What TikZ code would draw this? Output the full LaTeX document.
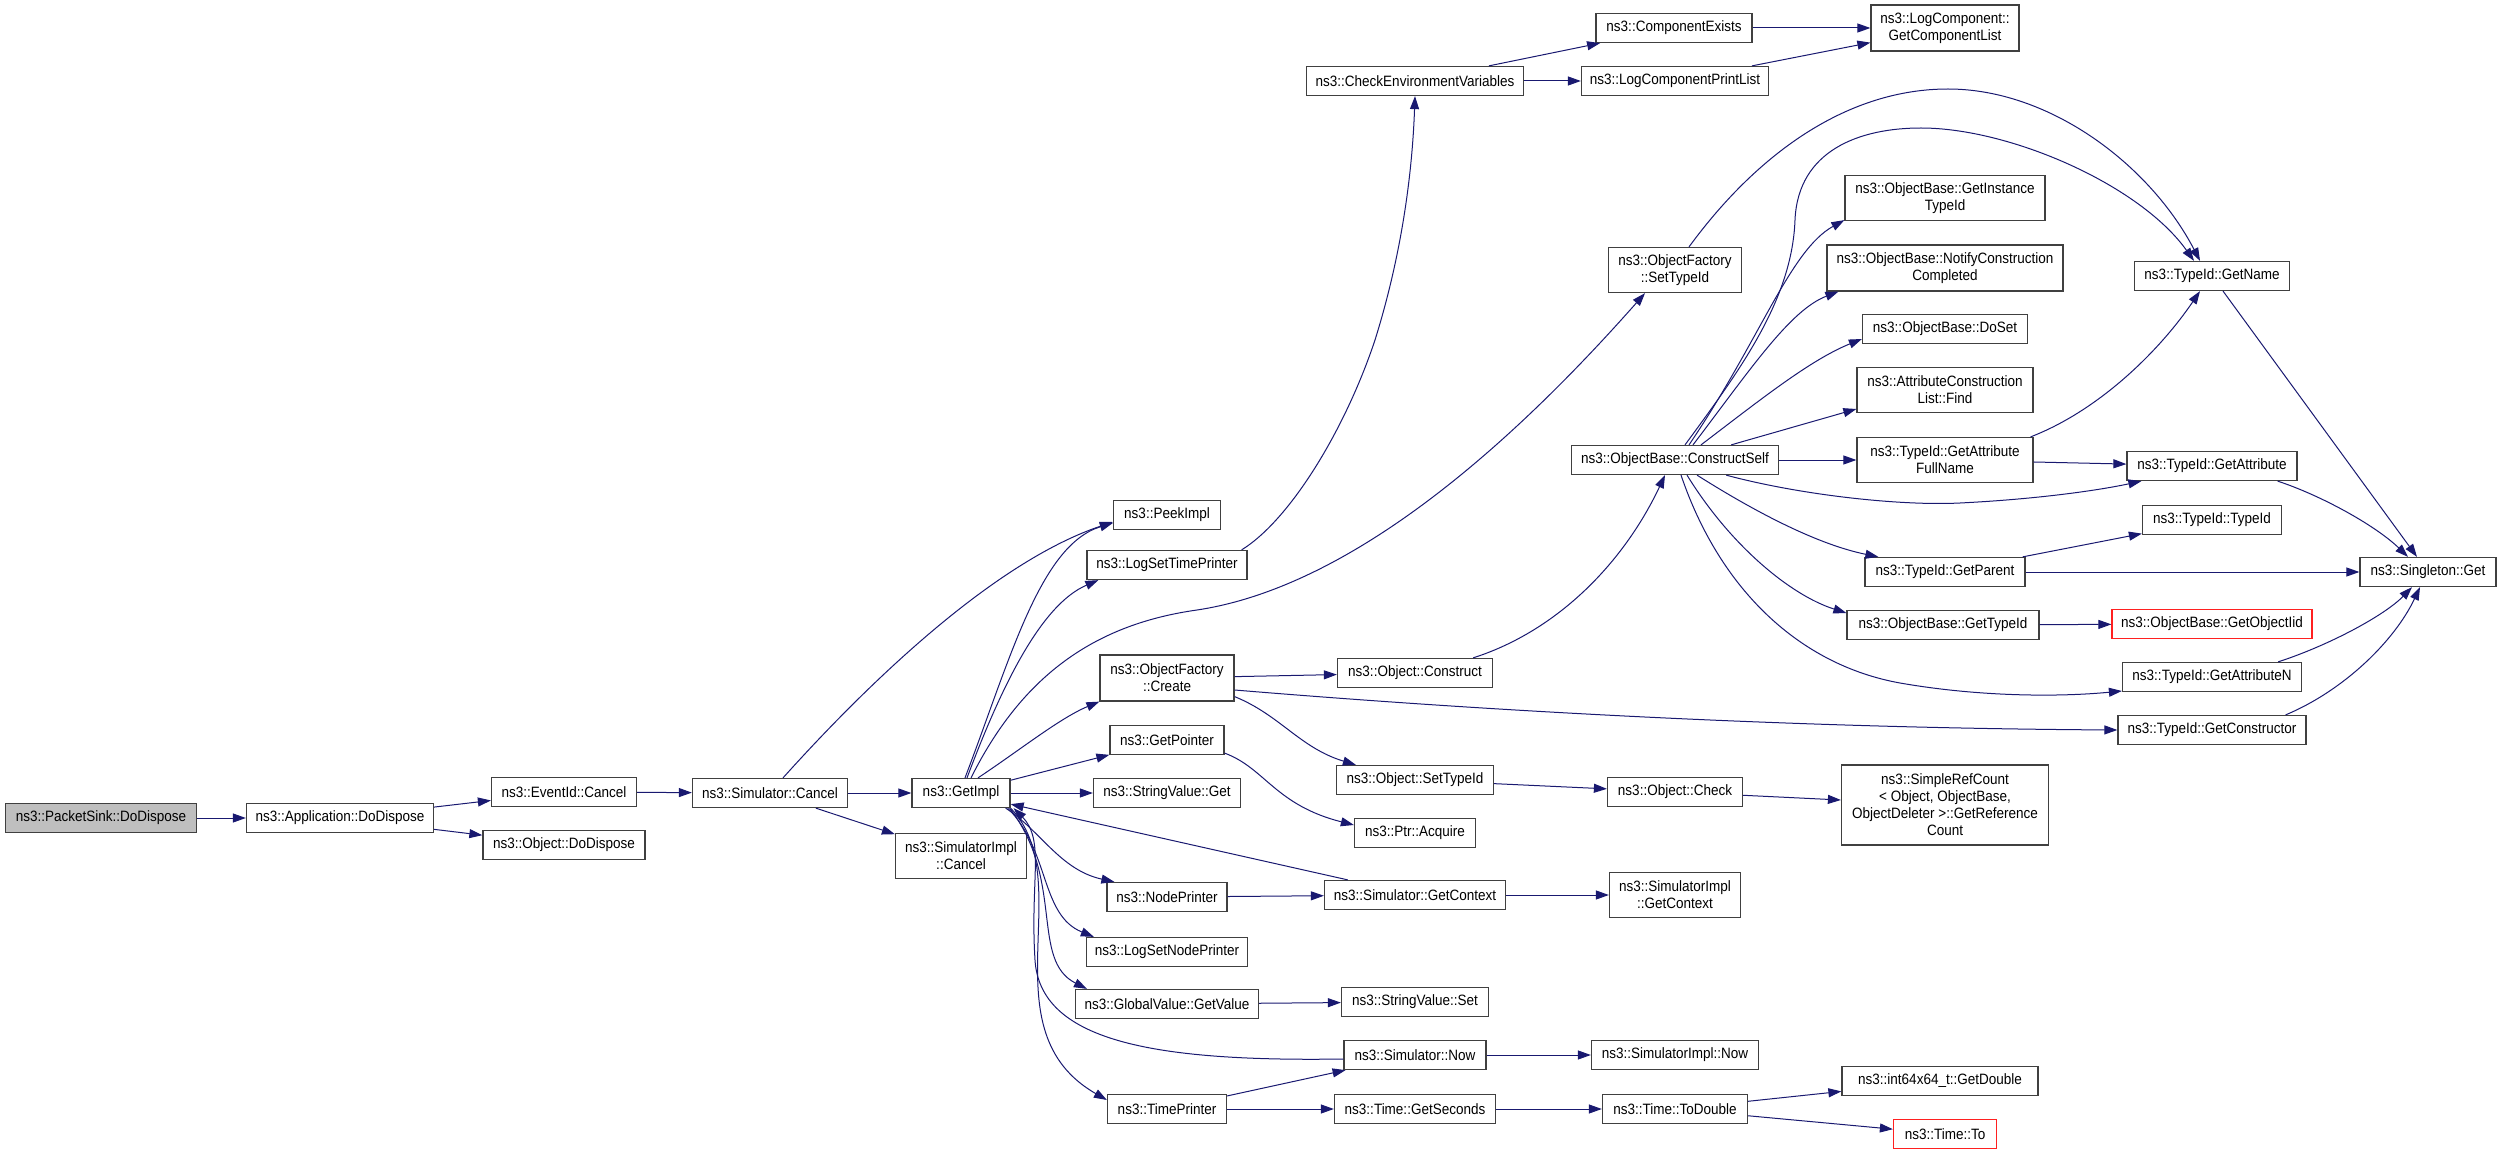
\documentclass[tikz,border=0pt]{standalone}
\usepackage{fontspec}
\setmainfont{Liberation Sans}[FakeStretch=0.9]
\usetikzlibrary{arrows.meta,calc}
\definecolor{edgec}{HTML}{191970}
\definecolor{boxc}{HTML}{404040}
\definecolor{truncc}{HTML}{FF2020}
\definecolor{grayfill}{HTML}{BFBFBF}
\tikzset{
  fn/.style={draw=boxc, line width=1.25pt, fill=white, inner sep=0pt, minimum height=29pt, align=center, font=\fontsize{15pt}{17pt}\selectfont},
  fntwo/.style={fn, minimum height=45pt},
  trunc/.style={draw=truncc},
  call/.style={draw=edgec, line width=1.0pt, -{Triangle[length=13pt,width=9pt]}}
}
\begin{document}
\begin{tikzpicture}[x=1pt,y=-1pt]
\useasboundingbox (0,0) rectangle (2501,1155);
% column 0-4
\node[fn, minimum width=191pt, fill=grayfill] (psdd) at (101,818) {ns3::PacketSink::DoDispose};
\node[fn, minimum width=187pt] (appdd) at (340,818) {ns3::Application::DoDispose};
\node[fn, minimum width=145pt] (evc) at (564,792) {ns3::EventId::Cancel};
\node[fn, minimum width=162pt] (objdd) at (564,845) {ns3::Object::DoDispose};
\node[fn, minimum width=155pt] (simc) at (770,793) {ns3::Simulator::Cancel};
\node[fn, minimum width=98pt] (getimpl) at (961,793) {ns3::GetImpl};
\node[fntwo, minimum width=131pt] (simic) at (961,856) {ns3::SimulatorImpl\\::Cancel};
% column 5
\node[fn, minimum width=107pt] (peek) at (1167,515) {ns3::PeekImpl};
\node[fn, minimum width=160pt] (lstp) at (1167,565) {ns3::LogSetTimePrinter};
\node[fn, minimum width=134pt, minimum height=46pt] (ofc) at (1167,678) {ns3::ObjectFactory\\::Create};
\node[fn, minimum width=114pt] (getptr) at (1167,740) {ns3::GetPointer};
\node[fn, minimum width=147pt] (svget) at (1167,793) {ns3::StringValue::Get};
\node[fn, minimum width=120pt] (nodep) at (1167,897) {ns3::NodePrinter};
\node[fn, minimum width=161pt] (lsnp) at (1167,952) {ns3::LogSetNodePrinter};
\node[fn, minimum width=183pt] (gvgv) at (1167,1004) {ns3::GlobalValue::GetValue};
\node[fn, minimum width=119pt] (timep) at (1167,1109) {ns3::TimePrinter};
% column 6
\node[fn, minimum width=217pt] (chkenv) at (1415,81) {ns3::CheckEnvironmentVariables};
\node[fn, minimum width=155pt] (objcons) at (1415,673) {ns3::Object::Construct};
\node[fn, minimum width=157pt] (objsti) at (1415,780) {ns3::Object::SetTypeId};
\node[fn, minimum width=121pt] (ptracq) at (1415,833) {ns3::Ptr::Acquire};
\node[fn, minimum width=181pt] (simgc) at (1415,895) {ns3::Simulator::GetContext};
\node[fn, minimum width=147pt] (svset) at (1415,1002) {ns3::StringValue::Set};
\node[fn, minimum width=142pt] (simnow) at (1415,1055) {ns3::Simulator::Now};
\node[fn, minimum width=161pt] (tgs) at (1415,1109) {ns3::Time::GetSeconds};
% column 7
\node[fn, minimum width=156pt] (compex) at (1674,28) {ns3::ComponentExists};
\node[fn, minimum width=187pt] (lcpl) at (1675,81) {ns3::LogComponentPrintList};
\node[fntwo, minimum width=133pt] (ofst) at (1675,270) {ns3::ObjectFactory\\::SetTypeId};
\node[fn, minimum width=207pt] (cself) at (1675,460) {ns3::ObjectBase::ConstructSelf};
\node[fn, minimum width=135pt] (objchk) at (1675,792) {ns3::Object::Check};
\node[fntwo, minimum width=131pt] (simigc) at (1675,895) {ns3::SimulatorImpl\\::GetContext};
\node[fn, minimum width=167pt] (siminow) at (1675,1055) {ns3::SimulatorImpl::Now};
\node[fn, minimum width=145pt] (ttod) at (1675,1109) {ns3::Time::ToDouble};
% column 8
\node[fn, minimum width=148pt, minimum height=46pt] (gcl) at (1945,28) {ns3::LogComponent::\\GetComponentList};
\node[fntwo, minimum width=200pt] (gitid) at (1945,198) {ns3::ObjectBase::GetInstance\\TypeId};
\node[fn, minimum width=236pt, minimum height=46pt] (ncc) at (1945,268) {ns3::ObjectBase::NotifyConstruction\\Completed};
\node[fn, minimum width=165pt] (doset) at (1945,329) {ns3::ObjectBase::DoSet};
\node[fntwo, minimum width=176pt] (acfind) at (1945,390) {ns3::AttributeConstruction\\List::Find};
\node[fntwo, minimum width=176pt] (gafn) at (1945,460) {ns3::TypeId::GetAttribute\\FullName};
\node[fn, minimum width=160pt] (gparent) at (1945,572) {ns3::TypeId::GetParent};
\node[fn, minimum width=192pt] (obgti) at (1943,625) {ns3::ObjectBase::GetTypeId};
\node[fn, minimum width=207pt, minimum height=80pt] (src) at (1945,805) {ns3::SimpleRefCount\\< Object, ObjectBase,\\ObjectDeleter >::GetReference\\Count};
\node[fn, minimum width=196pt] (gdouble) at (1940,1081) {ns3::int64x64\_t::GetDouble};
\node[fn, trunc, minimum width=103pt] (tto) at (1945,1134) {ns3::Time::To};
% column 9
\node[fn, minimum width=155pt] (gname) at (2212,276) {ns3::TypeId::GetName};
\node[fn, minimum width=170pt] (gattr) at (2212,466) {ns3::TypeId::GetAttribute};
\node[fn, minimum width=139pt] (tidtid) at (2212,520) {ns3::TypeId::TypeId};
\node[fn, trunc, minimum width=200pt] (goiid) at (2212,624) {ns3::ObjectBase::GetObjectIid};
\node[fn, minimum width=179pt] (gattrn) at (2212,677) {ns3::TypeId::GetAttributeN};
\node[fn, minimum width=188pt] (gctor) at (2212,730) {ns3::TypeId::GetConstructor};
% column 10
\node[fn, minimum width=136pt] (sget) at (2428,572) {ns3::Singleton::Get};

% edges
\draw[call] (psdd) -- (appdd);
\draw[call] (appdd) -- (evc);
\draw[call] (appdd) -- (objdd);
\draw[call] (evc) -- (simc);
\draw[call] (simc) -- (getimpl);
\draw[call] (simc) -- (simic);
\draw[call] ($(simc.north)+(13,0)$) .. controls (880,670) and (1000,560) .. ($(peek.west)+(0,7)$);
\draw[call] ($(getimpl.north)+(4,0)$) .. controls (1010,660) and (1040,545) .. ($(peek.west)+(0,8)$);
\draw[call] ($(getimpl.north)+(6,0)$) .. controls (1000,690) and (1040,605) .. ($(lstp.south west)+(12,0)$);
\draw[call] ($(getimpl.north)+(10,0)$) .. controls (1020,680) and (1090,625) .. (1197,610) .. controls (1330,590) and (1480,480) .. ($(ofst.south)+(-30,0)$);
\draw[call] ($(getimpl.north)+(17,0)$) .. controls (1020,750) and (1060,718) .. (ofc.south west);
\draw[call] (getimpl) -- (getptr);
\draw[call] (getimpl) -- (svget);
\draw[call] ($(getimpl.south east)+(-5,0)$) .. controls (1040,830) and (1060,870) .. ($(nodep.north west)+(8,0)$);
\draw[call] ($(getimpl.south east)+(-3,0)$) .. controls (1050,850) and (1040,915) .. ($(lsnp.north west)+(8,0)$);
\draw[call] ($(getimpl.south east)+(-1,0)$) .. controls (1065,880) and (1030,960) .. ($(gvgv.north west)+(12,0)$);
\draw[call] (getimpl.south east) .. controls (1080,880) and (985,1030) .. ($(timep.west)+(0,-9)$);
\draw[call] ($(simnow.west)+(0,4)$) .. controls (1150,1062) and (1040,1040) .. (1035,960) .. controls (1030,880) and (1045,840) .. ($(getimpl.south east)+(3,0)$);
\draw[call] (simgc) -- (getimpl);
\draw[call] (nodep) -- (simgc);
\draw[call] ($(lstp.north east)+(-6,0)$) .. controls (1290,520) and (1345,430) .. (1375,340) .. controls (1400,260) and (1412,180) .. (chkenv.south);
\draw[call] (ofc) -- (objcons);
\draw[call] ($(ofc.east)+(0,12)$) .. controls (1500,712) and (1800,728) .. (gctor.west);
\draw[call] ($(ofc.south east)+(0,-5)$) .. controls (1280,715) and (1300,748) .. ($(objsti.north west)+(20,0)$);
\draw[call] ($(getptr.south east)+(0,-2)$) .. controls (1265,768) and (1275,805) .. ($(ptracq.west)+(0,-8)$);
\draw[call] (chkenv) -- (compex);
\draw[call] (chkenv) -- (lcpl);
\draw[call] (compex) -- (gcl);
\draw[call] (lcpl) -- (gcl);
\draw[call] ($(ofst.north)+(14,0)$) .. controls (1760,150) and (1850,89) .. (1948,89) .. controls (2050,89) and (2150,165) .. ($(gname.north)+(-12,0)$);
\draw[call] ($(cself.north)+(10,0)$) .. controls (1740,370) and (1792,300) .. (1795,220) .. controls (1798,150) and (1860,128) .. (1921,128) .. controls (2010,128) and (2140,185) .. ($(gname.north)+(-18,0)$);
\draw[call] ($(cself.north)+(14,0)$) .. controls (1760,340) and (1790,250) .. ($(gitid.south west)+(0,-1)$);
\draw[call] ($(cself.north)+(18,0)$) .. controls (1750,370) and (1790,310) .. ($(ncc.south west)+(12,0)$);
\draw[call] ($(cself.north)+(26,0)$) .. controls (1760,400) and (1810,360) .. ($(doset.west)+(0,10)$);
\draw[call] ($(cself.north east)+(-48,0)$) -- ($(acfind.west)+(0,19)$);
\draw[call] (cself) -- (gafn);
\draw[call] ($(cself.south east)+(-53,0)$) .. controls (1800,495) and (1900,506) .. (1960,503) .. controls (2040,499) and (2100,490) .. ($(gattr.south west)+(15,0)$);
\draw[call] ($(cself.south)+(22,0)$) .. controls (1760,515) and (1820,545) .. ($(gparent.north west)+(14,0)$);
\draw[call] ($(cself.south)+(12,0)$) .. controls (1730,545) and (1790,595) .. ($(obgti.west)+(0,-12)$);
\draw[call] ($(cself.south)+(6,0)$) .. controls (1720,590) and (1800,665) .. (1900,683) .. controls (1980,697) and (2060,697) .. ($(gattrn.west)+(0,14)$);
\draw[call] ($(gafn.north east)+(-3,0)$) .. controls (2100,410) and (2160,350) .. ($(gname.south)+(-12,0)$);
\draw[call] (gafn) -- (gattr);
\draw[call] (gname) -- (sget);
\draw[call] ($(gattr.south east)+(-20,0)$) .. controls (2320,495) and (2375,525) .. ($(sget.north)+(-20,0)$);
\draw[call] (gparent) -- (tidtid);
\draw[call] (gparent) -- (sget);
\draw[call] (obgti) -- (goiid);
\draw[call] ($(gattrn.north east)+(-24,0)$) .. controls (2330,645) and (2385,615) .. ($(sget.south)+(-16,0)$);
\draw[call] ($(gctor.north east)+(-21,0)$) .. controls (2345,690) and (2395,640) .. ($(sget.south)+(-8,0)$);
\draw[call] ($(objcons.north east)+(-20,0)$) .. controls (1560,630) and (1625,560) .. ($(cself.south)+(-10,0)$);
\draw[call] (objsti) -- (objchk);
\draw[call] (objchk) -- (src);
\draw[call] (simgc) -- (simigc);
\draw[call] (gvgv) -- (svset);
\draw[call] (timep) -- (simnow);
\draw[call] (timep) -- (tgs);
\draw[call] (simnow) -- (siminow);
\draw[call] (tgs) -- (ttod);
\draw[call] (ttod) -- (gdouble);
\draw[call] (ttod) -- (tto);
\end{tikzpicture}
\end{document}
